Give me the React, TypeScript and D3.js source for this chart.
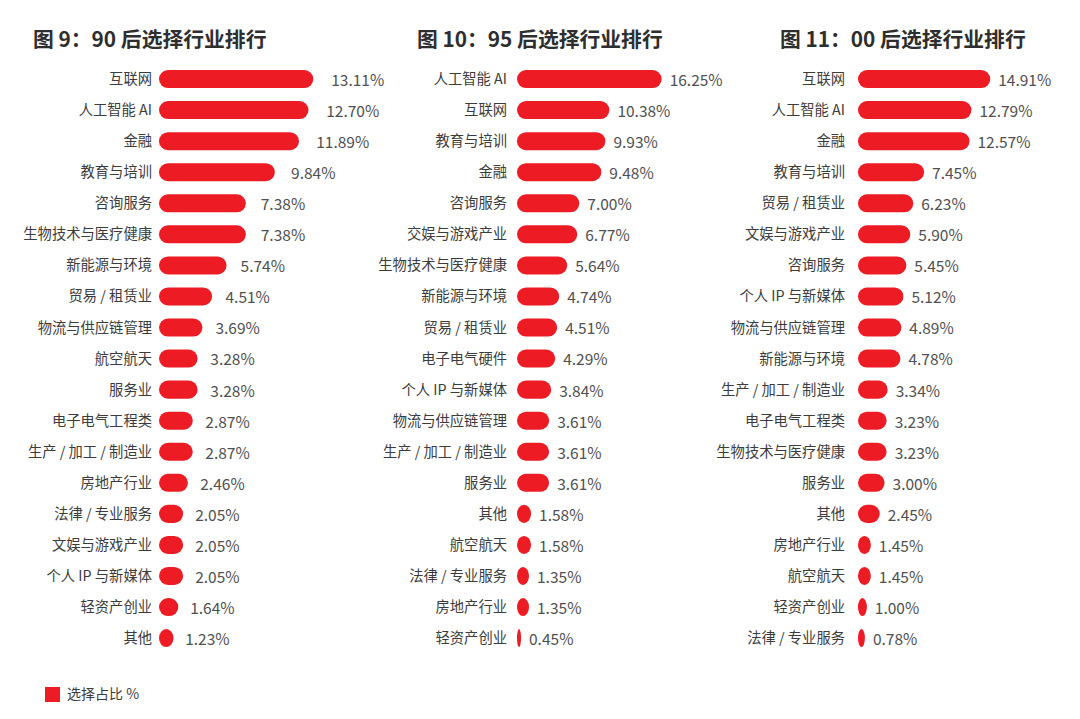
import React from 'react';
import * as d3 from 'd3';

// 图 9：90 后
const cats90 = ['互联网', '人工智能 AI', '金融', '教育与培训', '咨询服务', '生物技术与医疗健康', '新能源与环境', '贸易 / 租赁业', '物流与供应链管理', '航空航天', '服务业', '电子电气工程类', '生产 / 加工 / 制造业', '房地产行业', '法律 / 专业服务', '文娱与游戏产业', '个人 IP 与新媒体', '轻资产创业', '其他'];
const vals90 = [13.11, 12.70, 11.89, 9.84, 7.38, 7.38, 5.74, 4.51, 3.69, 3.28, 3.28, 2.87, 2.87, 2.46, 2.05, 2.05, 2.05, 1.64, 1.23];

// 图 10：95 后
const cats95 = ['人工智能 AI', '互联网', '教育与培训', '金融', '咨询服务', '交娱与游戏产业', '生物技术与医疗健康', '新能源与环境', '贸易 / 租赁业', '电子电气硬件', '个人 IP 与新媒体', '物流与供应链管理', '生产 / 加工 / 制造业', '服务业', '其他', '航空航天', '法律 / 专业服务', '房地产行业', '轻资产创业'];
const vals95 = [16.25, 10.38, 9.93, 9.48, 7.00, 6.77, 5.64, 4.74, 4.51, 4.29, 3.84, 3.61, 3.61, 3.61, 1.58, 1.58, 1.35, 1.35, 0.45];

// 图 11：00 后
const cats00 = ['互联网', '人工智能 AI', '金融', '教育与培训', '贸易 / 租赁业', '文娱与游戏产业', '咨询服务', '个人 IP 与新媒体', '物流与供应链管理', '新能源与环境', '生产 / 加工 / 制造业', '电子电气工程类', '生物技术与医疗健康', '服务业', '其他', '房地产行业', '航空航天', '轻资产创业', '法律 / 专业服务'];
const vals00 = [14.91, 12.79, 12.57, 7.45, 6.23, 5.90, 5.45, 5.12, 4.89, 4.78, 3.34, 3.23, 3.23, 3.00, 2.45, 1.45, 1.45, 1.00, 0.78];

const titles = ['图 9：90 后选择行业排行', '图 10：95 后选择行业排行', '图 11：00 后选择行业排行'];
const legendLabel = '选择占比 %';

const RED = '#ed1c24';
const FONT = '"Noto Sans CJK SC", "Noto Sans", sans-serif';

interface PanelProps {
    title: string;
    cats: string[];
    vals: number[];
    titleX: number;
    x0: number;
    pxPerPct: number;
    catGap: number;
    labelOffset: (v: number, barEnd: number) => number;
}

const Panel: React.FC<PanelProps> = ({ title, cats, vals, titleX, x0, pxPerPct, catGap, labelOffset }) => {
    const step = 31.06;
    const y = d3
        .scaleBand()
        .domain(cats)
        .range([63.5, 63.5 + cats.length * step])
        .paddingInner(0.42)
        .paddingOuter(0.21);
    const x = d3.scaleLinear().domain([0, 1]).range([x0, x0 + pxPerPct]);
    const h = y.bandwidth();

    return (
        <g>
            <text x={titleX} y={47} fontSize={20.8} fontWeight="bold" fill="#2e2e2e" fontFamily={FONT}>
                {title}
            </text>
            {cats.map((c, i) => {
                const yy = y(c)!;
                const w = x(vals[i]) - x0;
                const end = x(vals[i]);
                return (
                    <g key={c}>
                        <text
                            x={x0 - catGap}
                            y={yy + h / 2}
                            dy="0.35em"
                            textAnchor="end"
                            fontSize={14.3}
                            fill="#3c3c3c"
                            fontFamily={FONT}
                        >
                            {c}
                        </text>
                        <rect x={x0} y={yy} width={w} height={h} rx={h / 2} ry={h / 2} fill={RED} />
                        <text
                            x={labelOffset(vals[i], end)}
                            y={yy + h / 2 + 1.5}
                            dy="0.35em"
                            fontSize={15.5}
                            fill="#505050"
                            fontFamily={FONT}
                        >
                            {vals[i].toFixed(2)}%
                        </text>
                    </g>
                );
            })}
        </g>
    );
};

export default function App() {
    return (
        <svg
            width={1080}
            height={719}
            style={{ position: 'absolute', left: 0, top: 0, background: '#fff' }}
        >
            <rect width={1080} height={719} fill="#fff" />
            <Panel
                title={titles[0]}
                cats={cats90}
                vals={vals90}
                titleX={33}
                x0={159}
                pxPerPct={11.77}
                catGap={7}
                labelOffset={(v) => 159 + 11 + 12.3 * v}
            />
            <Panel
                title={titles[1]}
                cats={cats95}
                vals={vals95}
                titleX={417}
                x0={517}
                pxPerPct={8.9}
                catGap={10}
                labelOffset={(v, end) => end + 8}
            />
            <Panel
                title={titles[2]}
                cats={cats00}
                vals={vals00}
                titleX={780}
                x0={858}
                pxPerPct={8.87}
                catGap={13}
                labelOffset={(v, end) => end + 8}
            />
            <rect x={45} y={687} width={15} height={15} fill={RED} />
            <text x={67} y={694.5} dy="0.35em" fontSize={14} fill="#3c3c3c" fontFamily={FONT}>
                {legendLabel}
            </text>
        </svg>
    );
}
